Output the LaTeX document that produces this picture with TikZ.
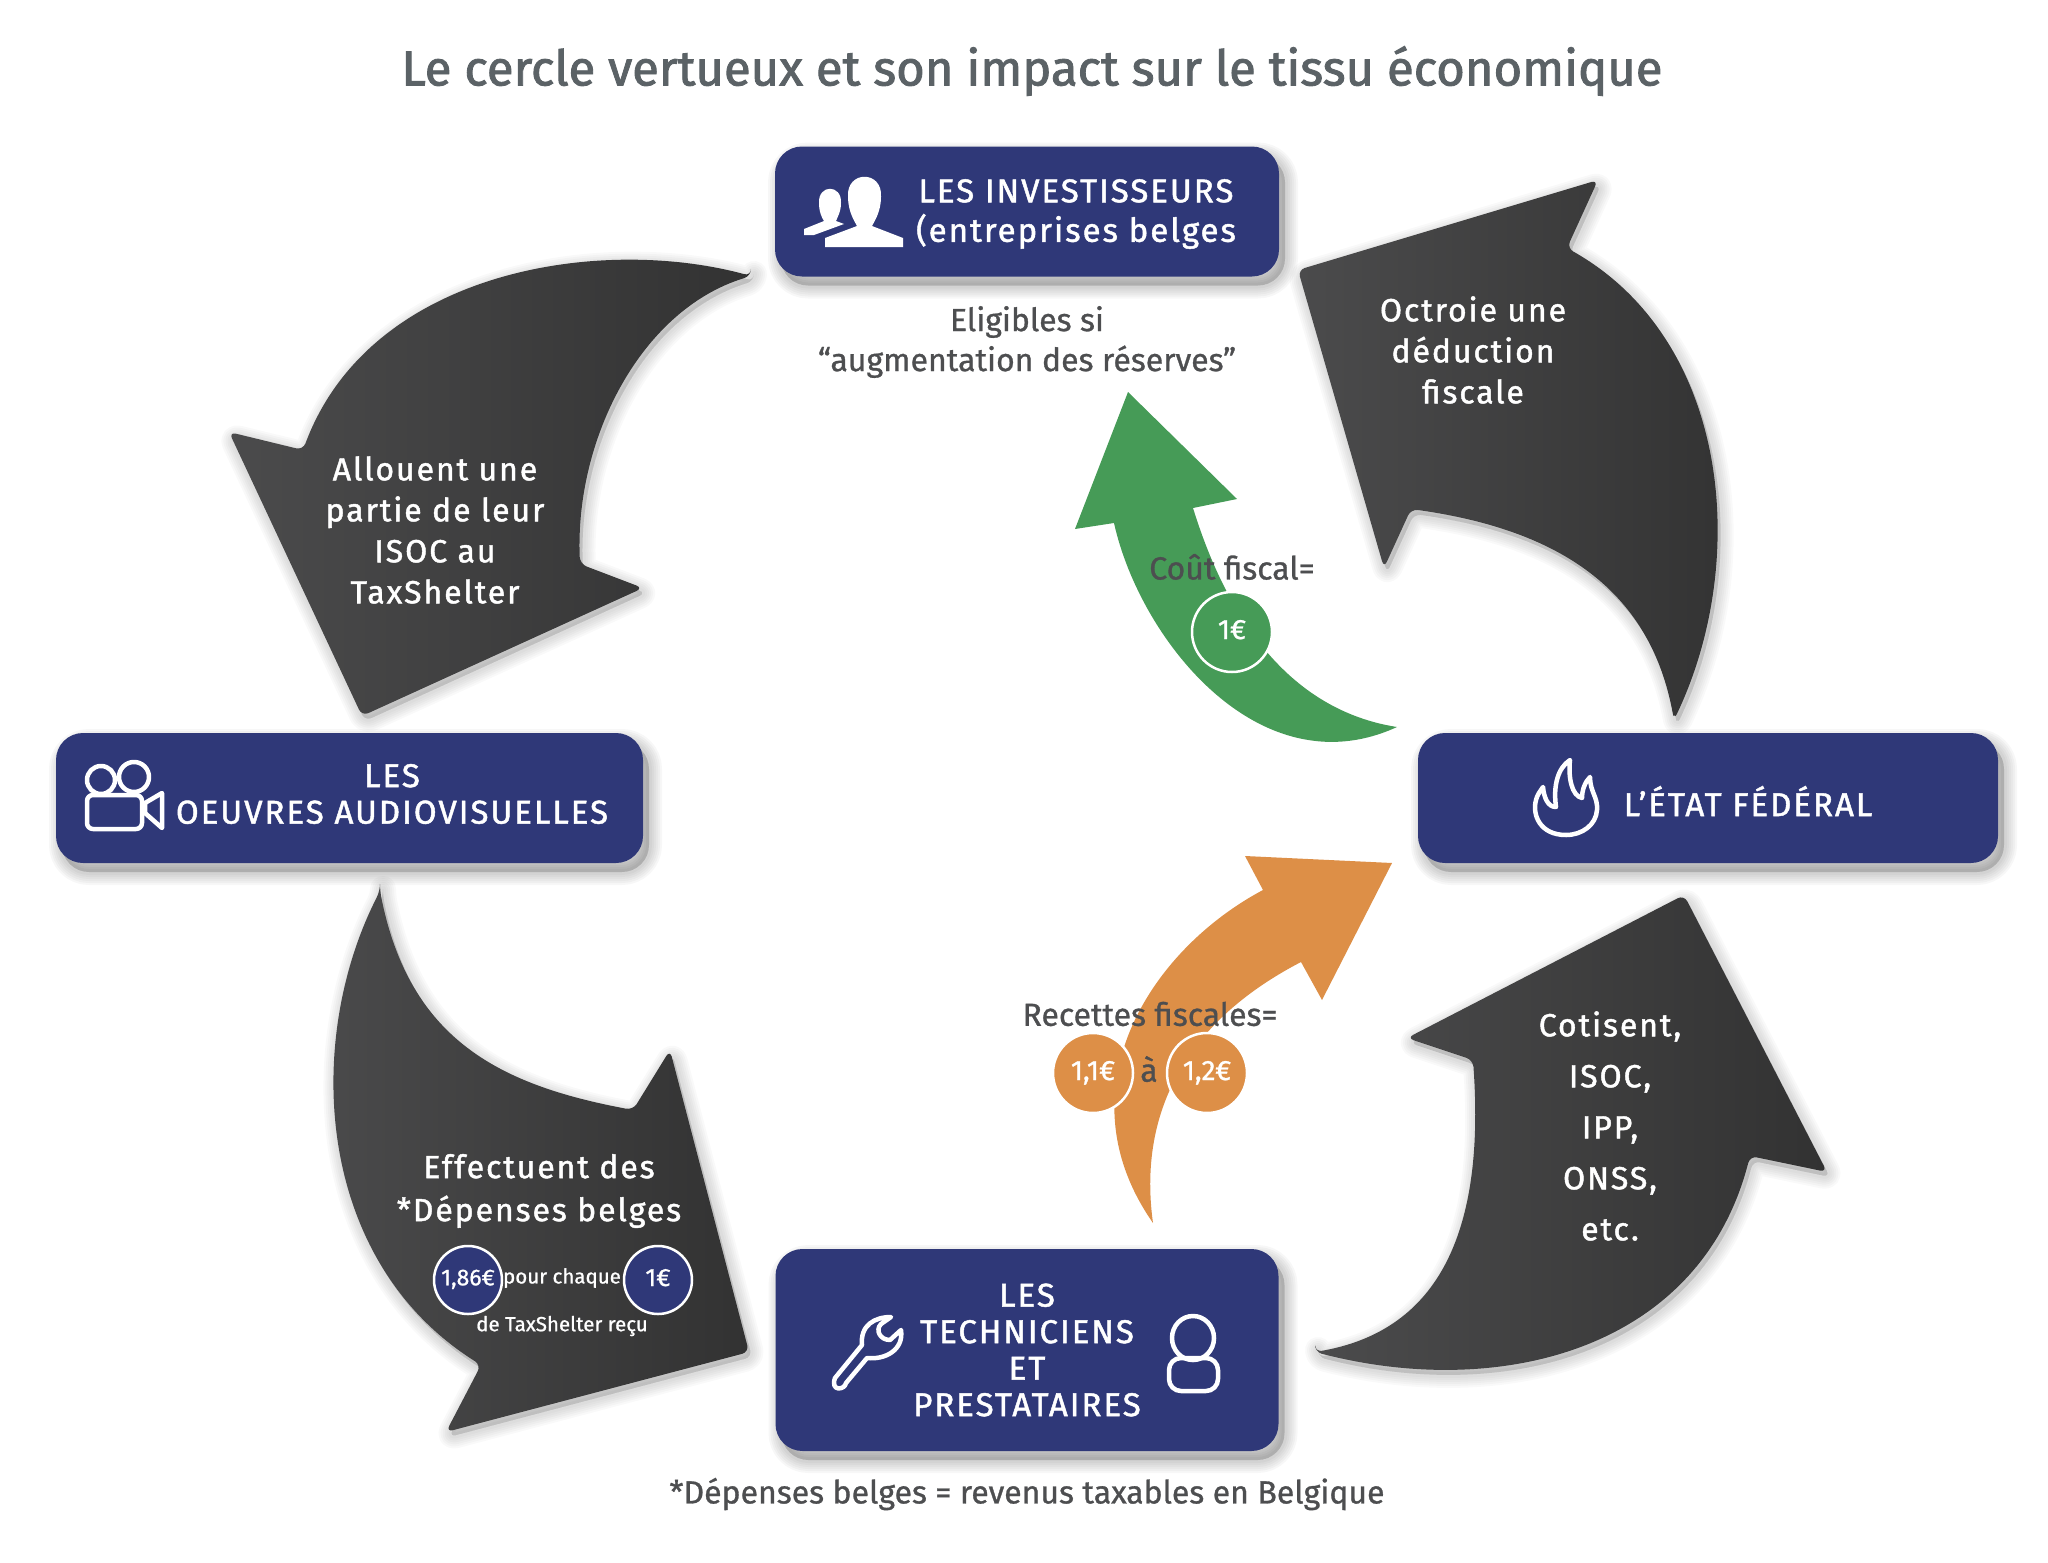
\documentclass[tikz,border=0pt]{standalone}
\usepackage{fontspec}
\setmainfont{Fira Sans}
\newfontfamily\medfont[FakeBold=1.4, LetterSpace=6]{Fira Sans}
\newfontfamily\greyfont[FakeBold=0.9]{Fira Sans}
\newfontfamily\headfont[FakeBold=1.8]{Fira Sans}
\usepackage{xcolor}
\usepackage{tikz}
\usetikzlibrary{
    arrows.meta,
    calc,
    shadows
}
\definecolor{boxblue}{HTML}{2F3878}
\definecolor{leafgreen}{HTML}{469B57}
\definecolor{copper}{HTML}{DD8F47}
\definecolor{inkgrey}{HTML}{4D4E50}
\definecolor{titlegrey}{HTML}{5B6266}
\definecolor{archigh}{HTML}{4B4B4C}
\definecolor{arclow}{HTML}{323232}
\tikzset{
    softlayer/.style={general shadow={shadow xshift=3pt, shadow yshift=-5pt, draw=black, fill=black, line width=#1, line join=round, opacity=.024}},
    softshadow/.style={softlayer=26pt, softlayer=22pt, softlayer=18pt, softlayer=14pt, softlayer=10pt, softlayer=6pt},
    boxlayer/.style={general shadow={shadow xshift=6pt, shadow yshift=-9pt, draw=black, fill=black, line width=#1, line join=round, opacity=.03}},
    boxshadow/.style={boxlayer=26pt, boxlayer=22pt, boxlayer=18pt, boxlayer=14pt, boxlayer=10pt, boxlayer=6pt},
    bigarrow/.style={softshadow, rounded corners=7pt, left color=archigh, right color=arclow},
    actor/.style={boxshadow, fill=boxblue, rounded corners=27pt, minimum height=130pt},
    whitetext/.style={text=white, align=center, font=\fontsize{32}{41}\selectfont\medfont},
    boxtext/.style={text=white, align=center, font=\fontsize{33}{36.5}\selectfont\medfont},
    greytext/.style={text=inkgrey, align=center, font=\fontsize{32}{40}\selectfont\greyfont},
    coin/.style={circle, draw=white, line width=2.5pt, minimum size=80pt, inner sep=0pt, text=white, text depth=5pt, font=\fontsize{28}{30}\selectfont\greyfont},
    smallcoin/.style={coin, fill=boxblue, minimum size=68pt, font=\fontsize{23}{25}\selectfont\greyfont},
    tinytext/.style={text=white, font=\fontsize{20.5}{24}\selectfont\greyfont},
    icon/.style={draw=white, line width=4.5pt, line join=round, line cap=round}
}
\begin{document}
\begin{tikzpicture}[x=1pt, y=-1pt]
    \useasboundingbox (0,0) rectangle (2048,1563);

    % Title
    \node (title) at (1032,71) [text=titlegrey, font=\fontsize{49}{52}\selectfont\headfont] {Le cercle vertueux et son impact sur le tissu économique};

    % Dark arrows
    \path[bigarrow] (1674,720) .. controls (1750,560) and (1730,340) .. (1567,248)
        -- (1598,180) -- (1298,270) -- (1384,568) -- (1411,509)
        .. controls (1560,530) and (1650,590) .. (1674,720) -- cycle;
    \path[bigarrow] (751,276) .. controls (600,235) and (370,270) .. (303,450)
        -- (229,432) -- (362,716) -- (643,588) -- (580,564)
        .. controls (575,440) and (640,310) .. (751,276) -- cycle;
    \path[bigarrow] (380,891) .. controls (304,1040) and (314,1260) .. (481,1365)
        -- (446,1432) -- (749,1352) -- (670,1050) -- (633,1110)
        .. controls (500,1085) and (410,1040) .. (380,891) -- cycle;
    \path[bigarrow] (1315,1352) .. controls (1500,1400) and (1700,1350) .. (1750,1156)
        -- (1827,1172) -- (1684,895) -- (1407,1038) -- (1473,1060)
        .. controls (1485,1230) and (1440,1330) .. (1315,1352) -- cycle;

    % Green and orange arrows
    \fill[leafgreen] (1397,727) .. controls (1320,715) and (1240,660) .. (1193,508)
        -- (1237,499) -- (1128,392) -- (1075,529) -- (1114,523)
        .. controls (1140,640) and (1260,790) .. (1397,727) -- cycle;
    \fill[copper] (1153,1223) .. controls (1140,1130) and (1170,1030) .. (1301,962)
        -- (1322,1000) -- (1392,863) -- (1245,856) -- (1263,890)
        .. controls (1150,950) and (1060,1090) .. (1153,1223) -- cycle;

    % Actors
    \node (investors) at (1027,211.5) [actor, minimum width=504pt] {};
    \node (works) at (349.5,798) [actor, minimum width=587pt] {};
    \node (state) at (1708,798) [actor, minimum width=580pt] {};
    \node (crew) at (1027,1350) [actor, minimum width=503pt, minimum height=202pt] {};

    \node (investorslabel) at (1076,214) [boxtext, font=\fontsize{33}{39.5}\selectfont\medfont] {LES INVESTISSEURS\\(entreprises belges};
    \node (workslabel) at (392,794) [boxtext] {LES\\OEUVRES AUDIOVISUELLES};
    \node (statelabel) at (1748,801) [boxtext] {L’ÉTAT FÉDÉRAL};
    \node (crewlabel) at (1027,1350) [boxtext] {LES\\TECHNICIENS\\ET\\PRESTATAIRES};

    % Icons
    \fill[white] (848,197) .. controls (846,170) and (883,170) .. (881,197)
        .. controls (881,212) and (874,222) .. (872,226) -- (903,238) -- (903,247) -- (825,247)
        -- (825,238) -- (857,226) .. controls (855,222) and (848,212) .. (848,197) -- cycle;
    \fill[white] (819,203) .. controls (818,184) and (842,184) .. (841,203)
        .. controls (841,212) and (837,218) .. (836,221) -- (844,224) -- (814,235) -- (804,235)
        -- (804,229) -- (824,221) .. controls (822,218) and (819,212) .. (819,203) -- cycle;
    \draw[icon] (101,780) ellipse [x radius=14, y radius=14];
    \draw[icon] (134,777) ellipse [x radius=15, y radius=15];
    \draw[icon, rounded corners=6pt] (87,795) rectangle (142,829);
    \draw[icon] (145,803) -- (162,793) -- (162,828) -- (145,813) -- cycle;
    \draw[icon] (1566,835) .. controls (1540,835) and (1532,815) .. (1536,800)
        .. controls (1537,795) and (1541,790) .. (1543,787)
        .. controls (1544,798) and (1548,807) .. (1556,807)
        .. controls (1553,785) and (1558,768) .. (1570,760)
        .. controls (1568,778) and (1572,796) .. (1582,798)
        .. controls (1582,790) and (1585,782) .. (1590,777)
        .. controls (1590,792) and (1598,797) .. (1597,810)
        .. controls (1596,825) and (1582,835) .. (1566,835) -- cycle;
    \draw[icon] (891,1317) .. controls (875,1317) and (860,1325) .. (862,1345)
        -- (835,1378) .. controls (830,1392) and (845,1390) .. (846,1383)
        -- (867,1358) .. controls (885,1360) and (904,1350) .. (901,1330)
        -- (890,1340) .. controls (880,1340) and (875,1330) .. (881,1324) -- cycle;
    \draw[icon] (1193,1338) ellipse [x radius=21, y radius=22];
    \draw[icon, rounded corners=12pt] (1169,1358) rectangle (1218,1391);

    % Arrow labels
    \node (grantlabel) at (1473,350) [whitetext] {Octroie une\\déduction\\fiscale};
    \node (sharelabel) at (435,530) [whitetext] {Allouent une\\partie de leur\\ISOC au\\TaxShelter};
    \node (spendlabel) at (539,1191) [whitetext, font=\fontsize{32}{43}\selectfont\medfont] {Effectuent des\\*Dépenses belges};
    \node (paylabel) at (1610,1126) [whitetext, font=\fontsize{32}{51}\selectfont\medfont] {Cotisent,\\ISOC,\\IPP,\\ONSS,\\etc.};

    \node (spendcoin) at (468,1280) [smallcoin] {1,86€};
    \node (eachcoin) at (658,1280) [smallcoin, font=\fontsize{25}{25}\selectfont\greyfont] {1€};
    \node (eachlabel) at (562,1278) [tinytext] {pour chaque};
    \node (receivedlabel) at (562,1326) [tinytext] {de TaxShelter reçu};

    % Texts in the middle
    \node (eligiblelabel) at (1027,342) [greytext] {Eligibles si\\“augmentation des réserves”};
    \node (costlabel) at (1232,567) [greytext] {Coût fiscal=};
    \node (costcoin) at (1232,632) [coin, fill=leafgreen] {1€};
    \node (revenuelabel) at (1150,1014) [greytext] {Recettes fiscales=};
    \node (lowcoin) at (1093,1073) [coin, fill=copper] {1,1€};
    \node (tolabel) at (1149,1069) [greytext] {à};
    \node (highcoin) at (1207,1073) [coin, fill=copper] {1,2€};

    % Footnote
    \node (footnote) at (1027,1494) [greytext] {*Dépenses belges = revenus taxables en Belgique};
\end{tikzpicture}
\end{document}
